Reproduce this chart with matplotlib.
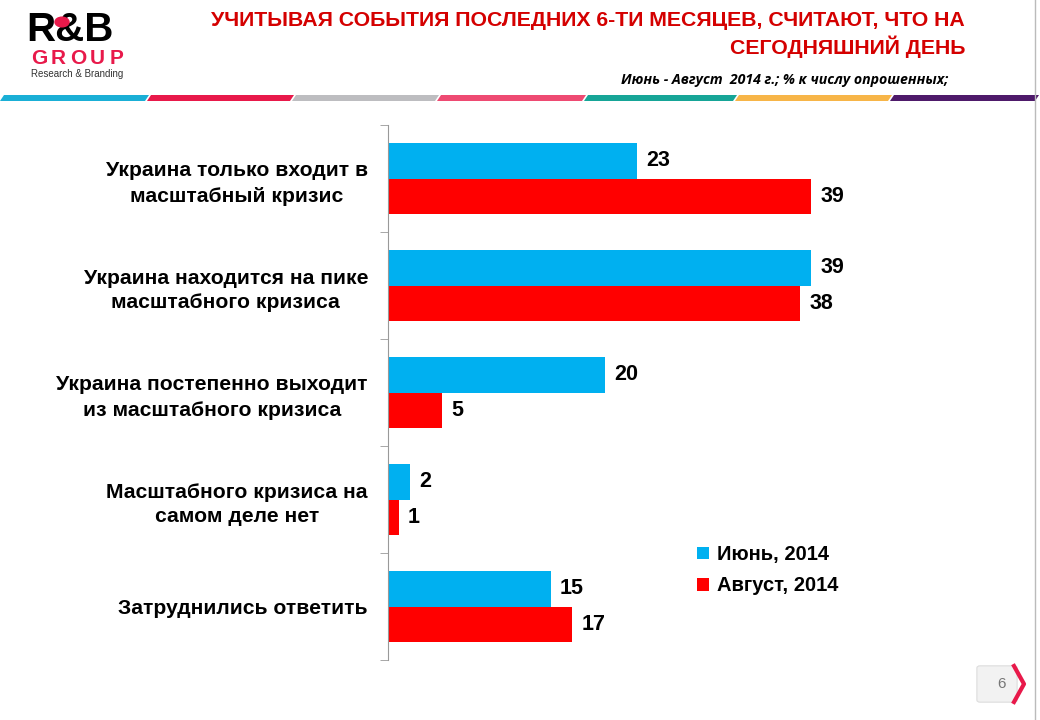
import numpy as np
import matplotlib.pyplot as plt
from matplotlib.patches import Polygon, Circle, FancyBboxPatch

plt.rcParams['font.family'] = ['Liberation Sans', 'DejaVu Sans']

categories = [
    "Украина только входит в\nмасштабный кризис",
    "Украина находится на пике\nмасштабного кризиса",
    "Украина постепенно выходит\nиз масштабного кризиса",
    "Масштабного кризиса на\nсамом деле нет",
    "Затруднились ответить",
]
june = [23, 39, 20, 2, 15]
august = [39, 38, 5, 1, 17]
series_names = ["Июнь, 2014", "Август, 2014"]
colors = ["#00B0F0", "#FF0000"]

fig = plt.figure(figsize=(10.4, 7.2), dpi=100)
W, H = 1040, 720

def px(x, y):
    return x / W, 1 - y / H

# header stripes
stripes = [(0, 145, "#1AAFD6"), (147, 290, "#E8194A"), (292, 435, "#BDBDC0"),
           (437, 582, "#EE4A72"), (584, 733, "#16A597"), (735, 888, "#F7B548"),
           (890, 1035, "#4E1A6A")]
for x0, x1, c in stripes:
    pts = [px(x0 + 4, 95), px(x1 + 4, 95), px(x1, 101), px(x0, 101)]
    fig.patches.append(Polygon(pts, closed=True, transform=fig.transFigure,
                               facecolor=c, edgecolor='none'))

# slide border on the right
fig.add_artist(plt.Line2D([1035 / W, 1035 / W], [0, 1], color="#BBBBBB", lw=1))

# logo
fig.text(*px(26, 30), "R&B", fontsize=29, fontweight='bold', color='black',
         va='center', ha='left')
fig.patches.append(Circle(px(62, 22), 7 / W, transform=fig.transFigure,
                          color="#E8194A", zorder=5))
for i, ch in enumerate("GROUP"):
    fig.text(*px(39 + i * 19.5, 58), ch, fontsize=15, fontweight='bold',
             color="#E8194A", va='center', ha='center')
fig.text(*px(31, 74), "Research & Branding", fontsize=7, color='#333333',
         va='center', ha='left')

# title
fig.text(*px(965, 20), "УЧИТЫВАЯ СОБЫТИЯ ПОСЛЕДНИХ 6-ТИ МЕСЯЦЕВ, СЧИТАЮТ, ЧТО НА",
         fontsize=15.3, fontweight='bold', color="#D40000", ha='right', va='center')
fig.text(*px(965, 47), "СЕГОДНЯШНИЙ ДЕНЬ",
         fontsize=15.3, fontweight='bold', color="#D40000", ha='right', va='center')
fig.text(*px(948, 80), "Июнь - Август  2014 г.; % к числу опрошенных;",
         fontsize=10.2, fontweight='bold', style='italic', color='black',
         ha='right', va='center', family=['Open Sans', 'DejaVu Sans'])

# chart
ax = fig.add_axes([388 / W, 60 / H, 488 / W, 535 / H])
y = np.arange(len(categories))
h = 0.33
ax.barh(y - h / 2, june, height=h, color=colors[0], label=series_names[0])
ax.barh(y + h / 2, august, height=h, color=colors[1], label=series_names[1])
for i in range(len(categories)):
    ax.text(june[i] + 0.85, y[i] - h / 2, str(june[i]), va='center', ha='left',
            fontsize=15.5, fontweight='bold')
    ax.text(august[i] + 0.85, y[i] + h / 2, str(august[i]), va='center', ha='left',
            fontsize=15.5, fontweight='bold')

ax.set_xlim(0, 45)
ax.set_ylim(len(categories) - 0.5, -0.5)
for s in ['top', 'right', 'bottom']:
    ax.spines[s].set_visible(False)
ax.spines['left'].set_color('#999999')
ax.set_xticks([])
ax.set_yticks(np.arange(-0.5, len(categories)), minor=True)
ax.set_yticks(y)
ax.set_yticklabels(categories, fontsize=15.2, fontweight='bold', ha='right',
                   multialignment='center', linespacing=1.4)
ax.tick_params(axis='y', which='major', length=0, pad=14.4)
ax.tick_params(axis='y', which='minor', length=6, color='#999999')

leg = ax.legend(loc='upper left', bbox_to_anchor=(679 / W, 1 - 527 / H),
                bbox_transform=fig.transFigure, frameon=False,
                prop={'size': 14.5, 'weight': 'bold'}, handlelength=0.6,
                handleheight=0.6, handletextpad=0.4, labelspacing=0.6)

# page number
fig.patches.append(FancyBboxPatch(px(980, 700), 34 / W, 32 / H, boxstyle="round,pad=0.003",
                                  transform=fig.transFigure, facecolor="#F2F2F2",
                                  edgecolor="#DDDDDD", lw=0.8))
fig.add_artist(plt.Line2D([1014 / W, 1024 / W, 1014 / W], [1 - 666 / H, 1 - 684 / H, 1 - 702 / H],
                          color="#E8194A", lw=3))
fig.text(*px(1002, 684), "6", fontsize=11, color='#777777', ha='center', va='center')

fig.savefig("out.png", dpi=100)
